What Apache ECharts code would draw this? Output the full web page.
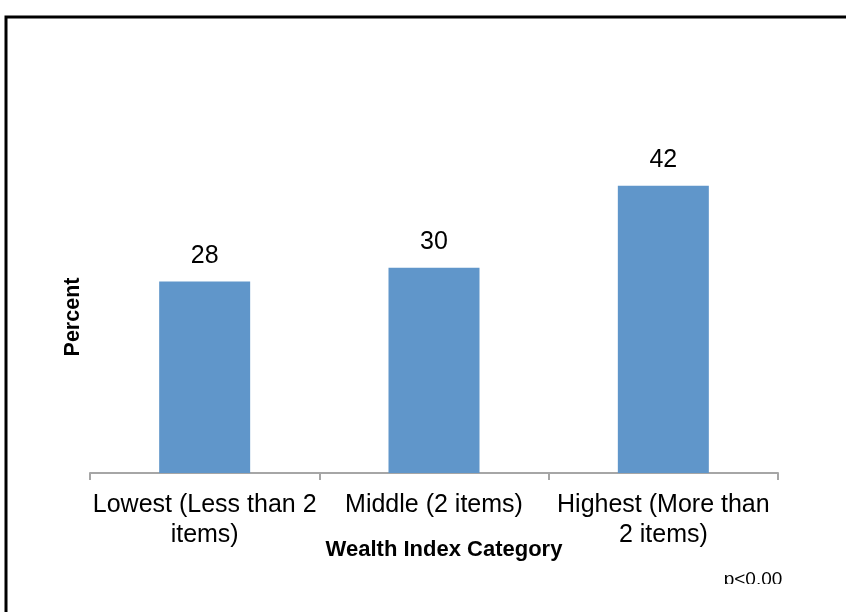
<!DOCTYPE html>
<html>
<head>
<meta charset="utf-8">
<script src="https://cdn.jsdelivr.net/npm/echarts@6/dist/echarts.min.js"></script>
<style>
html,body{margin:0;padding:0;background:#fff;}
#c{width:846px;height:612px;}
</style>
</head>
<body>
<div id="c"></div>
<script>
const categories = ['Lowest (Less than 2\nitems)', 'Middle (2 items)', 'Highest (More than\n2 items)'];
const percentValues = [28, 30, 42];
const yAxisTitle = 'Percent';
const xAxisTitle = 'Wealth Index Category';
const noteText = 'p<0.00';

const chart = echarts.init(document.getElementById('c'), null, {renderer: 'canvas'});
const FONT = 'Liberation Sans, Arial, Helvetica, sans-serif';
chart.setOption({
  backgroundColor: '#ffffff',
  animation: false,
  grid: {left: 90, right: 68, top: 131, bottom: 139},
  xAxis: {
    type: 'category',
    data: categories,
    axisLine: {show: true, lineStyle: {color: '#A6A6A6', width: 2}},
    axisTick: {show: true, length: 7, alignWithLabel: false, lineStyle: {color: '#A6A6A6', width: 2}},
    axisLabel: {color: '#000', fontFamily: FONT, fontSize: 25, lineHeight: 30, margin: 17, interval: 0, align: 'center'}
  },
  yAxis: {
    type: 'value', min: 0, max: 50, interval: 10, show: false,
    splitLine: {show: false}
  },
  series: [{
    type: 'bar',
    data: percentValues,
    barWidth: 91,
    itemStyle: {color: '#6096CA'},
    label: {show: true, position: 'top', distance: 13, color: '#000', fontFamily: FONT, fontSize: 25}
  }],
  graphic: [
    {type: 'text', x: 73, y: 317, rotation: Math.PI / 2,
      style: {text: yAxisTitle, fontFamily: FONT, fontSize: 21.5, fontWeight: 'bold', fill: '#000', align: 'center', verticalAlign: 'middle'}},
    {type: 'text', x: 444, y: 550, style: {text: xAxisTitle, fontFamily: FONT, fontSize: 22, fontWeight: 'bold', fill: '#000', align: 'center', verticalAlign: 'middle'}},
    {type: 'text', x: 753, y: 580, style: {text: noteText, fontFamily: FONT, fontSize: 19, fill: '#000', align: 'center', verticalAlign: 'middle'}, z: 10},
    {type: 'rect', shape: {x: 700, y: 584, width: 120, height: 28}, style: {fill: '#ffffff'}, z: 20},
    {type: 'rect', shape: {x: 6, y: 17, width: 1000, height: 1000}, style: {fill: 'none', stroke: '#000', lineWidth: 3}, z: 30}
  ]
});
</script>
</body>
</html>
